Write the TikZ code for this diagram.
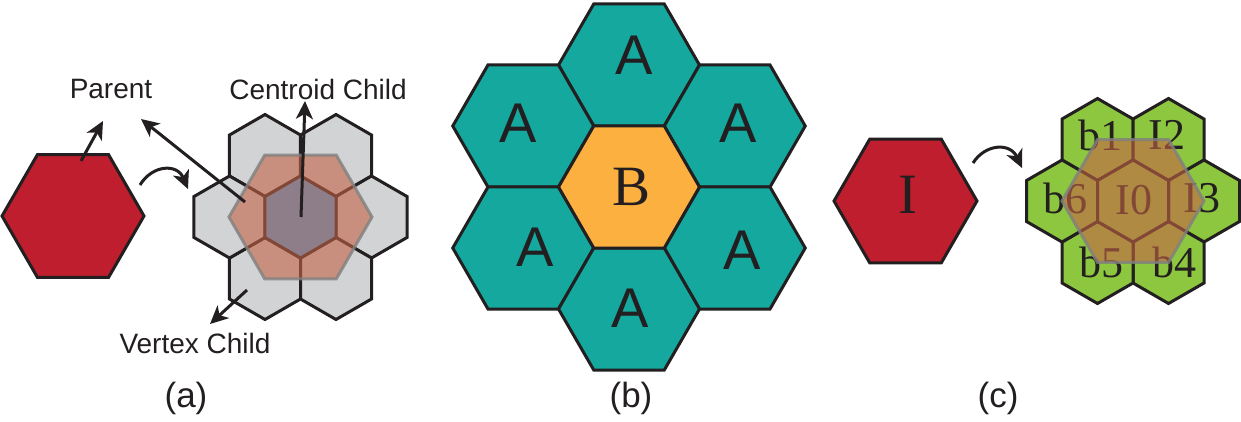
\documentclass[tikz,border=0pt]{standalone}
\usepackage{fontspec}
\setmainfont{Liberation Serif}
\setsansfont{Liberation Sans}
\usetikzlibrary{shapes.geometric,arrows.meta}
\definecolor{hexred}{RGB}{190,30,45}
\definecolor{hexgray}{RGB}{209,211,212}
\definecolor{hexteal}{RGB}{20,168,158}
\definecolor{hexorange}{RGB}{251,176,64}
\definecolor{hexgreen}{RGB}{141,198,63}
\definecolor{hexblue}{RGB}{61,170,241}
\definecolor{ovl}{RGB}{196,98,69}
\definecolor{ovlline}{RGB}{128,128,128}
\definecolor{ink}{RGB}{35,31,32}
\begin{document}
\begin{tikzpicture}[x=1pt,y=-1pt,
  flathex/.style={regular polygon, regular polygon sides=6, inner sep=0pt, outer sep=0pt, draw=ink, line width=3pt},
  pointhex/.style={regular polygon, regular polygon sides=6, shape border rotate=30, minimum size=82pt, inner sep=0pt, outer sep=0pt, draw=ink, line width=3pt},
  overlay hex/.style={regular polygon, regular polygon sides=6, inner sep=0pt, outer sep=0pt, fill=ovl, fill opacity=0.6, draw=ovlline, draw opacity=0.8, line width=3pt},
  sanslabel/.style={font=\sffamily\fontsize{28}{32}\selectfont, text=ink, inner sep=0pt},
  caplabel/.style={font=\sffamily\fontsize{35}{40}\selectfont, text=ink, inner sep=0pt},
  biglabel/.style={font=\sffamily\fontsize{56}{60}\selectfont, text=ink, inner sep=0pt},
  seriflabel/.style={font=\rmfamily\fontsize{57}{60}\selectfont, text=ink, inner sep=0pt},
  celllabel/.style={font=\rmfamily\fontsize{44}{48}\selectfont, text=ink, inner sep=0pt},
  arr/.style={draw=ink, line width=3pt, -{Stealth[length=18pt, width=17pt, inset=5pt]}}
]
\useasboundingbox (0,0) rectangle (1241,421);

% ---------------- panel (a) ----------------
\node[flathex, minimum size=142pt, fill=hexred] (pa) at (73,216) {};
\node[pointhex, fill=hexgray] (a1) at (265,155.5) {};
\node[pointhex, fill=hexgray] (a2) at (336,155.5) {};
\node[pointhex, fill=hexgray] (a3) at (371.5,217) {};
\node[pointhex, fill=hexgray] (a4) at (336,278.5) {};
\node[pointhex, fill=hexgray] (a5) at (265,278.5) {};
\node[pointhex, fill=hexgray] (a6) at (229.5,217) {};
\node[pointhex, fill=hexblue] (a0) at (300.5,217) {};
\node[overlay hex, minimum size=143pt] (aov) at (300.5,217) {};

\node[sanslabel] (parent) at (111,89) {Parent};
\node[sanslabel] (centroid) at (318,89) {Centroid Child};
\node[sanslabel] (vertex) at (195,343) {Vertex Child};
\node[caplabel] (capa) at (186,398) {(a)};

\coordinate (p1s) at (81,161);
\coordinate (p1e) at (103,121);
\coordinate (p2s) at (245,202);
\coordinate (p2e) at (141,119);
\coordinate (cs) at (301,217);
\coordinate (ce) at (305,101);
\coordinate (vs) at (247,290);
\coordinate (ve) at (210,324);
\coordinate (cas) at (140,185);
\coordinate (cae) at (188,189);
\draw[arr] (p1s) -- (p1e);
\draw[arr] (p2s) -- (p2e);
\draw[arr] (cs) -- (ce);
\draw[arr] (vs) -- (ve);
\draw[arr] (cas) .. controls (152,165) and (177,163) .. (cae);

% ---------------- panel (b) ----------------
\node[flathex, minimum size=141pt, fill=hexteal] (bt) at (629,65) {};
\node[flathex, minimum size=141pt, fill=hexteal] (btl) at (523.25,126) {};
\node[flathex, minimum size=141pt, fill=hexteal] (btr) at (734.75,126) {};
\node[flathex, minimum size=141pt, fill=hexteal] (bbl) at (523.25,248) {};
\node[flathex, minimum size=141pt, fill=hexteal] (bbr) at (734.75,248) {};
\node[flathex, minimum size=141pt, fill=hexteal] (bb) at (629,309) {};
\node[flathex, minimum size=141pt, fill=hexorange] (bc) at (629,187) {};
\node[biglabel] (lt) at (634,55) {A};
\node[biglabel] (ltl) at (518,123) {A};
\node[biglabel] (ltr) at (738,123) {A};
\node[biglabel] (lbl) at (535,247) {A};
\node[biglabel] (lbr) at (742,250) {A};
\node[biglabel] (lb) at (630,308) {A};
\node[seriflabel] (lc) at (632,187) {B};
\node[caplabel] (capb) at (631,398) {(b)};

% ---------------- panel (c) ----------------
\node[flathex, minimum size=143pt, fill=hexred] (pc) at (905.5,201) {};
\node[seriflabel] (li) at (908,195) {I};
\coordinate (ccs) at (973,163);
\coordinate (cce) at (1022,168);
\draw[arr] (ccs) .. controls (985,144) and (1010,142) .. (cce);

\node[pointhex, fill=hexgreen] (c1) at (1097.5,139.5) {};
\node[pointhex, fill=hexgreen] (c2) at (1168.5,139.5) {};
\node[pointhex, fill=hexgreen] (c3) at (1204,201) {};
\node[pointhex, fill=hexgreen] (c4) at (1168.5,262.5) {};
\node[pointhex, fill=hexgreen] (c5) at (1097.5,262.5) {};
\node[pointhex, fill=hexgreen] (c6) at (1062,201) {};
\node[pointhex, fill=hexgreen] (c0) at (1133,201) {};
\node[celllabel] (lb1) at (1100,135) {b1};
\node[celllabel] (li2) at (1167,135) {I2};
\node[celllabel] (lb6) at (1065,198) {b6};
\node[celllabel] (li0) at (1134,200) {I0};
\node[celllabel] (li3) at (1202,198) {I3};
\node[celllabel] (lb5) at (1101,262) {b5};
\node[celllabel] (lb4) at (1174,262) {b4};
\node[overlay hex, minimum size=142pt] (cov) at (1133,201) {};
\node[caplabel] (capc) at (998,398) {(c)};
\end{tikzpicture}
\end{document}
